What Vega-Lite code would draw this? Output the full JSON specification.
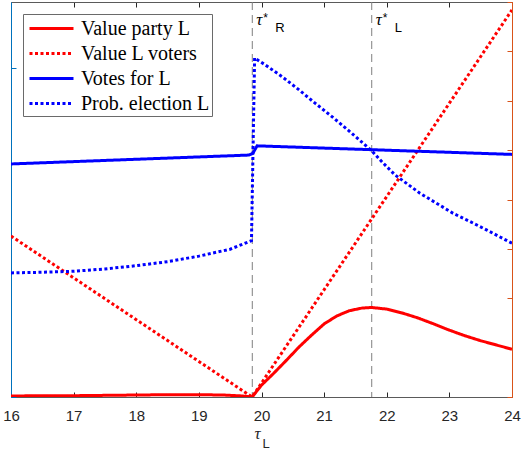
{
  "$schema": "https://vega.github.io/schema/vega-lite/v6.json",
  "width": 501,
  "height": 395,
  "autosize": {"type": "none"},
  "padding": {"left": 11, "top": 2, "right": 9, "bottom": 54},
  "background": "white",
  "config": {
    "view": {"stroke": null},
    "axis": {"grid": false, "domainWidth": 1, "tickWidth": 1, "labelFont": "Liberation Sans", "labelFontSize": 15, "labelColor": "#262626", "title": null},
    "legend": {"labelFont": "Liberation Serif", "labelFontSize": 20, "labelColor": "#000000"}
  },
  "datasets": {
    "series": [
      {"s": "Value party L", "x": 16, "v": 0.003},
      {"s": "Value party L", "x": 16.5, "v": 0.004},
      {"s": "Value party L", "x": 17, "v": 0.004},
      {"s": "Value party L", "x": 17.5, "v": 0.005},
      {"s": "Value party L", "x": 18, "v": 0.006},
      {"s": "Value party L", "x": 18.5, "v": 0.007},
      {"s": "Value party L", "x": 19, "v": 0.007},
      {"s": "Value party L", "x": 19.4, "v": 0.006},
      {"s": "Value party L", "x": 19.7, "v": 0.003},
      {"s": "Value party L", "x": 19.85, "v": 0},
      {"s": "Value party L", "x": 20.0, "v": 0.036},
      {"s": "Value party L", "x": 20.2, "v": 0.073},
      {"s": "Value party L", "x": 20.4, "v": 0.112},
      {"s": "Value party L", "x": 20.6, "v": 0.152},
      {"s": "Value party L", "x": 20.8, "v": 0.188},
      {"s": "Value party L", "x": 21.0, "v": 0.222},
      {"s": "Value party L", "x": 21.2, "v": 0.246},
      {"s": "Value party L", "x": 21.4, "v": 0.262},
      {"s": "Value party L", "x": 21.6, "v": 0.270},
      {"s": "Value party L", "x": 21.76, "v": 0.272},
      {"s": "Value party L", "x": 22.0, "v": 0.267},
      {"s": "Value party L", "x": 22.25, "v": 0.255},
      {"s": "Value party L", "x": 22.5, "v": 0.240},
      {"s": "Value party L", "x": 22.75, "v": 0.222},
      {"s": "Value party L", "x": 23.0, "v": 0.203},
      {"s": "Value party L", "x": 23.25, "v": 0.186},
      {"s": "Value party L", "x": 23.5, "v": 0.171},
      {"s": "Value party L", "x": 23.75, "v": 0.158},
      {"s": "Value party L", "x": 24.0, "v": 0.145},
      {"s": "Value L voters", "x": 16, "v": 0.489},
      {"s": "Value L voters", "x": 19.85, "v": 0},
      {"s": "Value L voters", "x": 24, "v": 1.176},
      {"s": "Votes for L", "x": 16, "v": 0.708},
      {"s": "Votes for L", "x": 19.8, "v": 0.735},
      {"s": "Votes for L", "x": 19.86, "v": 0.740},
      {"s": "Votes for L", "x": 19.93, "v": 0.763},
      {"s": "Votes for L", "x": 24, "v": 0.737},
      {"s": "Prob. election L", "x": 16, "v": 0.377},
      {"s": "Prob. election L", "x": 16.5, "v": 0.379},
      {"s": "Prob. election L", "x": 17, "v": 0.382},
      {"s": "Prob. election L", "x": 17.5, "v": 0.389},
      {"s": "Prob. election L", "x": 18, "v": 0.399},
      {"s": "Prob. election L", "x": 18.5, "v": 0.411},
      {"s": "Prob. election L", "x": 19, "v": 0.428},
      {"s": "Prob. election L", "x": 19.5, "v": 0.449},
      {"s": "Prob. election L", "x": 19.84, "v": 0.475},
      {"s": "Prob. election L", "x": 19.89, "v": 1.03},
      {"s": "Prob. election L", "x": 20.06, "v": 1.009},
      {"s": "Prob. election L", "x": 20.33, "v": 0.973},
      {"s": "Prob. election L", "x": 20.6, "v": 0.933},
      {"s": "Prob. election L", "x": 20.86, "v": 0.892},
      {"s": "Prob. election L", "x": 21.13, "v": 0.851},
      {"s": "Prob. election L", "x": 21.4, "v": 0.808},
      {"s": "Prob. election L", "x": 21.76, "v": 0.748},
      {"s": "Prob. election L", "x": 21.93, "v": 0.713},
      {"s": "Prob. election L", "x": 22.13, "v": 0.675},
      {"s": "Prob. election L", "x": 22.53, "v": 0.619},
      {"s": "Prob. election L", "x": 22.8, "v": 0.588},
      {"s": "Prob. election L", "x": 23.06, "v": 0.558},
      {"s": "Prob. election L", "x": 23.33, "v": 0.533},
      {"s": "Prob. election L", "x": 23.6, "v": 0.507},
      {"s": "Prob. election L", "x": 24, "v": 0.467}
    ],
    "taus": [
      {"tau": 19.853, "sub": "R"},
      {"tau": 21.76, "sub": "L"}
    ],
    "frame": [
      {"x": 16, "v": 0},
      {"x": 24, "v": 1.2}
    ]
  },
  "layer": [
    {
      "data": {"name": "frame"},
      "mark": {"type": "point", "opacity": 0},
      "encoding": {
        "x": {"field": "x", "type": "quantitative", "scale": {"domain": [16, 24], "nice": false, "zero": false},
              "axis": {"orient": "top", "values": [16, 17, 18, 19, 20, 21, 22, 23, 24], "labels": false, "tickSize": -5, "domainColor": "#5a5a5a", "tickColor": "#262626"}},
        "y": {"field": "v", "type": "quantitative", "scale": {"domain": [0, 1.2], "nice": false},
              "axis": {"orient": "right", "values": [0, 0.15, 0.3, 0.45, 0.6, 0.75, 0.9, 1.05, 1.2], "labels": false, "tickSize": -5, "domainColor": "#D95319", "tickColor": "#D95319"}}
      }
    },
    {
      "data": {"name": "taus"},
      "mark": {"type": "rule", "color": "#7f7f7f", "strokeWidth": 1, "strokeDash": [8, 5]},
      "encoding": {
        "x": {"field": "tau", "type": "quantitative", "axis": null}
      }
    },
    {
      "data": {"name": "series"},
      "mark": {"type": "line", "strokeWidth": 3, "clip": true},
      "encoding": {
        "x": {"field": "x", "type": "quantitative",
              "axis": {"orient": "bottom", "values": [16, 17, 18, 19, 20, 21, 22, 23, 24], "tickSize": -5, "labelPadding": 16, "domainColor": "#5a5a5a", "tickColor": "#262626", "labelFlush": false}},
        "y": {"field": "v", "type": "quantitative",
              "axis": {"orient": "left", "values": [0, 1], "labels": false, "tickSize": -5, "domainColor": "#0072BD", "tickColor": "#0072BD"}},
        "color": {"field": "s", "type": "nominal",
                  "scale": {"domain": ["Value party L", "Value L voters", "Votes for L", "Prob. election L"], "range": ["#ff0000", "#ff0000", "#0000ff", "#0000ff"]},
                  "legend": {"title": null, "orient": "none", "legendX": 12, "legendY": 12, "symbolType": "M-1,0H3", "symbolSize": 484, "symbolStrokeWidth": 3, "symbolOffset": 3, "labelFont": "Liberation Serif", "labelFontSize": 20, "labelColor": "#000000", "labelOffset": 28, "rowPadding": 2, "padding": 2, "strokeColor": "#6a6a6a", "fillColor": "white", "labelLimit": 300}},
        "strokeDash": {"field": "s", "type": "nominal",
                       "scale": {"domain": ["Value party L", "Value L voters", "Votes for L", "Prob. election L"], "range": [[1, 0], [3, 2.5], [1, 0], [3, 2.5]]},
                       "legend": {"title": null, "orient": "none", "legendX": 12, "legendY": 12, "symbolType": "M-1,0H3", "symbolSize": 484, "symbolStrokeWidth": 3, "symbolOffset": 3, "labelFont": "Liberation Serif", "labelFontSize": 20, "labelColor": "#000000", "labelOffset": 28, "rowPadding": 2, "padding": 2, "strokeColor": "#6a6a6a", "fillColor": "white", "labelLimit": 300}},
        "detail": {"field": "s"}
      }
    },
    {
      "data": {"name": "taus"},
      "mark": {"type": "text", "text": "τ", "font": "Liberation Serif", "fontStyle": "italic", "fontSize": 17, "align": "left", "baseline": "alphabetic", "dx": 4, "dy": 23, "color": "#000000"},
      "encoding": {
        "x": {"field": "tau", "type": "quantitative", "axis": null},
        "y": {"datum": 1.2, "type": "quantitative", "axis": null}
      }
    },
    {
      "data": {"name": "taus"},
      "mark": {"type": "text", "text": "*", "font": "Liberation Sans", "fontSize": 12, "align": "left", "baseline": "alphabetic", "dx": 11, "dy": 20, "color": "#000000"},
      "encoding": {
        "x": {"field": "tau", "type": "quantitative", "axis": null},
        "y": {"datum": 1.2, "type": "quantitative", "axis": null}
      }
    },
    {
      "data": {"name": "taus"},
      "mark": {"type": "text", "font": "Liberation Sans", "fontSize": 13, "align": "left", "baseline": "alphabetic", "dx": 23, "dy": 30, "color": "#000000"},
      "encoding": {
        "x": {"field": "tau", "type": "quantitative", "axis": null},
        "y": {"datum": 1.2, "type": "quantitative", "axis": null},
        "text": {"field": "sub"}
      }
    },
    {
      "data": {"values": [{"lab": "τ"}]},
      "mark": {"type": "text", "font": "Liberation Serif", "fontStyle": "italic", "fontSize": 17, "align": "center", "baseline": "alphabetic", "dx": -4, "dy": 42, "color": "#262626"},
      "encoding": {
        "x": {"datum": 20, "type": "quantitative", "axis": null},
        "y": {"datum": 0, "type": "quantitative", "axis": null},
        "text": {"field": "lab"}
      }
    },
    {
      "data": {"values": [{"lab": "L"}]},
      "mark": {"type": "text", "font": "Liberation Sans", "fontSize": 13, "align": "left", "baseline": "alphabetic", "dx": 1, "dy": 51, "color": "#262626"},
      "encoding": {
        "x": {"datum": 20, "type": "quantitative", "axis": null},
        "y": {"datum": 0, "type": "quantitative", "axis": null},
        "text": {"field": "lab"}
      }
    }
  ],
  "resolve": {"axis": {"x": "independent", "y": "independent"}}
}
